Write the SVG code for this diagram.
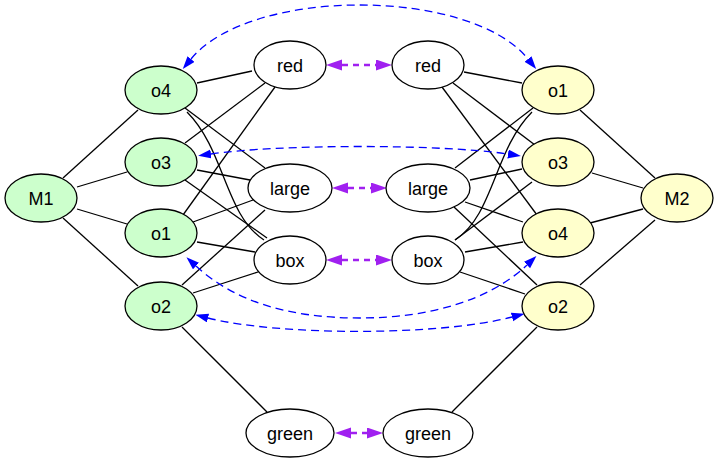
<svg xmlns="http://www.w3.org/2000/svg" width="719" height="462" viewBox="0 0 719 462">
  <style>
    .node ellipse { stroke: #000; stroke-width: 1.3; }
    .node text { font-family: "Liberation Sans", Arial, sans-serif; font-size: 18px; text-anchor: middle; fill: #000; }
    .plain { fill: #fff; }
    .left { fill: #ccffcc; }
    .right { fill: #ffffcc; }
    .edge { stroke: #000; stroke-width: 1.3; fill: none; }
    .blue { stroke: #0000ff; stroke-width: 1.3; fill: none; stroke-dasharray: 8 5; marker-start: url(#ab); marker-end: url(#ab); }
    .purple { stroke: #a020f0; stroke-width: 2.7; fill: none; stroke-dasharray: 6 5; marker-start: url(#ap); marker-end: url(#ap); }
  </style>
  <defs>
    <marker id="ab" markerUnits="userSpaceOnUse" markerWidth="14" markerHeight="10" refX="0" refY="4.5" orient="auto-start-reverse">
      <path d="M0,0 L13,4.5 L0,9 z" fill="#0000ff"/>
    </marker>
    <marker id="ap" markerUnits="userSpaceOnUse" markerWidth="17" markerHeight="12" refX="0" refY="5.5" orient="auto-start-reverse">
      <path d="M0,0 L16,5.5 L0,11 z" fill="#a020f0"/>
    </marker>
  </defs>

  <g id="connectors">
    <!-- left side -->
    <line class="edge" x1="63" y1="178" x2="138" y2="110"/>
    <line class="edge" x1="77" y1="187" x2="127" y2="172"/>
    <line class="edge" x1="77" y1="209" x2="127" y2="224"/>
    <line class="edge" x1="63" y1="218" x2="138" y2="286"/>
    <line class="edge" x1="197" y1="83" x2="252" y2="71"/>
    <line class="edge" x1="185" y1="108" x2="265" y2="168"/>
    <path class="edge" d="M187,112 C225,150 225,215 264,240"/>
    <line class="edge" x1="185" y1="143" x2="265" y2="83"/>
    <line class="edge" x1="197" y1="170" x2="250" y2="180"/>
    <line class="edge" x1="185" y1="180" x2="267" y2="238"/>
    <line class="edge" x1="183" y1="215" x2="275" y2="87"/>
    <line class="edge" x1="193" y1="222" x2="253" y2="200"/>
    <line class="edge" x1="197" y1="242" x2="255" y2="252"/>
    <line class="edge" x1="182" y1="285" x2="265" y2="210"/>
    <line class="edge" x1="193" y1="293" x2="258" y2="272"/>
    <line class="edge" x1="182" y1="327" x2="267" y2="412"/>
    <!-- right side -->
    <line class="edge" x1="580" y1="110" x2="655" y2="178"/>
    <line class="edge" x1="592" y1="173" x2="643" y2="188"/>
    <line class="edge" x1="590" y1="223" x2="643" y2="209"/>
    <line class="edge" x1="580" y1="285" x2="655" y2="220"/>
    <line class="edge" x1="464" y1="72" x2="522" y2="83"/>
    <line class="edge" x1="453" y1="83" x2="535" y2="145"/>
    <line class="edge" x1="442" y1="87" x2="537" y2="215"/>
    <line class="edge" x1="455" y1="168" x2="533" y2="108"/>
    <line class="edge" x1="470" y1="180" x2="522" y2="169"/>
    <line class="edge" x1="465" y1="202" x2="523" y2="222"/>
    <line class="edge" x1="454" y1="207" x2="537" y2="285"/>
    <path class="edge" d="M455,240 C494,215 494,150 532,112"/>
    <line class="edge" x1="455" y1="240" x2="532" y2="182"/>
    <line class="edge" x1="465" y1="252" x2="523" y2="242"/>
    <line class="edge" x1="460" y1="272" x2="525" y2="294"/>
    <line class="edge" x1="452" y1="412" x2="537" y2="327"/>
    <!-- dashed links across -->
    <path class="blue" d="M191,59 C250,-13 470,-13 528,59"/>
    <path class="blue" d="M211,154 C280,144 440,144 508,154"/>
    <path class="blue" d="M196,266 C235,302 290,318 360,318 C430,318 490,300 527,265"/>
    <path class="blue" d="M208,318 C280,336 440,336 512,317"/>
    <path class="purple" d="M342,65 L376,65"/>
    <path class="purple" d="M348,188 L371,188"/>
    <path class="purple" d="M342,260 L376,260"/>
    <path class="purple" d="M351,433 L367,433"/>
  </g>

  <g id="M1" class="node"><ellipse class="left" cx="41" cy="198" rx="36" ry="24"/><text x="41" y="204.5">M1</text></g>
  <g id="L_o4" class="node"><ellipse class="left" cx="161" cy="90" rx="36" ry="24"/><text x="161" y="96.5">o4</text></g>
  <g id="L_o3" class="node"><ellipse class="left" cx="161" cy="162" rx="36" ry="24"/><text x="161" y="168.5">o3</text></g>
  <g id="L_o1" class="node"><ellipse class="left" cx="161" cy="233" rx="36" ry="24"/><text x="161" y="239.5">o1</text></g>
  <g id="L_o2" class="node"><ellipse class="left" cx="161" cy="306" rx="36" ry="24"/><text x="161" y="312.5">o2</text></g>

  <g id="L_red" class="node"><ellipse class="plain" cx="290" cy="65" rx="36" ry="24"/><text x="290" y="71.5">red</text></g>
  <g id="L_large" class="node"><ellipse class="plain" cx="290" cy="188" rx="42" ry="24"/><text x="290" y="194.5">large</text></g>
  <g id="L_box" class="node"><ellipse class="plain" cx="290" cy="260" rx="36" ry="24"/><text x="290" y="266.5">box</text></g>
  <g id="L_green" class="node"><ellipse class="plain" cx="290" cy="433" rx="44" ry="24"/><text x="290" y="439.5">green</text></g>

  <g id="R_red" class="node"><ellipse class="plain" cx="428" cy="65" rx="36" ry="24"/><text x="428" y="71.5">red</text></g>
  <g id="R_large" class="node"><ellipse class="plain" cx="428" cy="188" rx="42" ry="24"/><text x="428" y="194.5">large</text></g>
  <g id="R_box" class="node"><ellipse class="plain" cx="428" cy="260" rx="36" ry="24"/><text x="428" y="266.5">box</text></g>
  <g id="R_green" class="node"><ellipse class="plain" cx="428" cy="433" rx="45" ry="24"/><text x="428" y="439.5">green</text></g>

  <g id="R_o1" class="node"><ellipse class="right" cx="558" cy="90" rx="36" ry="24"/><text x="558" y="96.5">o1</text></g>
  <g id="R_o3" class="node"><ellipse class="right" cx="558" cy="162" rx="36" ry="24"/><text x="558" y="168.5">o3</text></g>
  <g id="R_o4" class="node"><ellipse class="right" cx="558" cy="233" rx="36" ry="24"/><text x="558" y="239.5">o4</text></g>
  <g id="R_o2" class="node"><ellipse class="right" cx="558" cy="306" rx="36" ry="24"/><text x="558" y="312.5">o2</text></g>
  <g id="M2" class="node"><ellipse class="right" cx="677" cy="198" rx="36" ry="24"/><text x="677" y="204.5">M2</text></g>
</svg>
